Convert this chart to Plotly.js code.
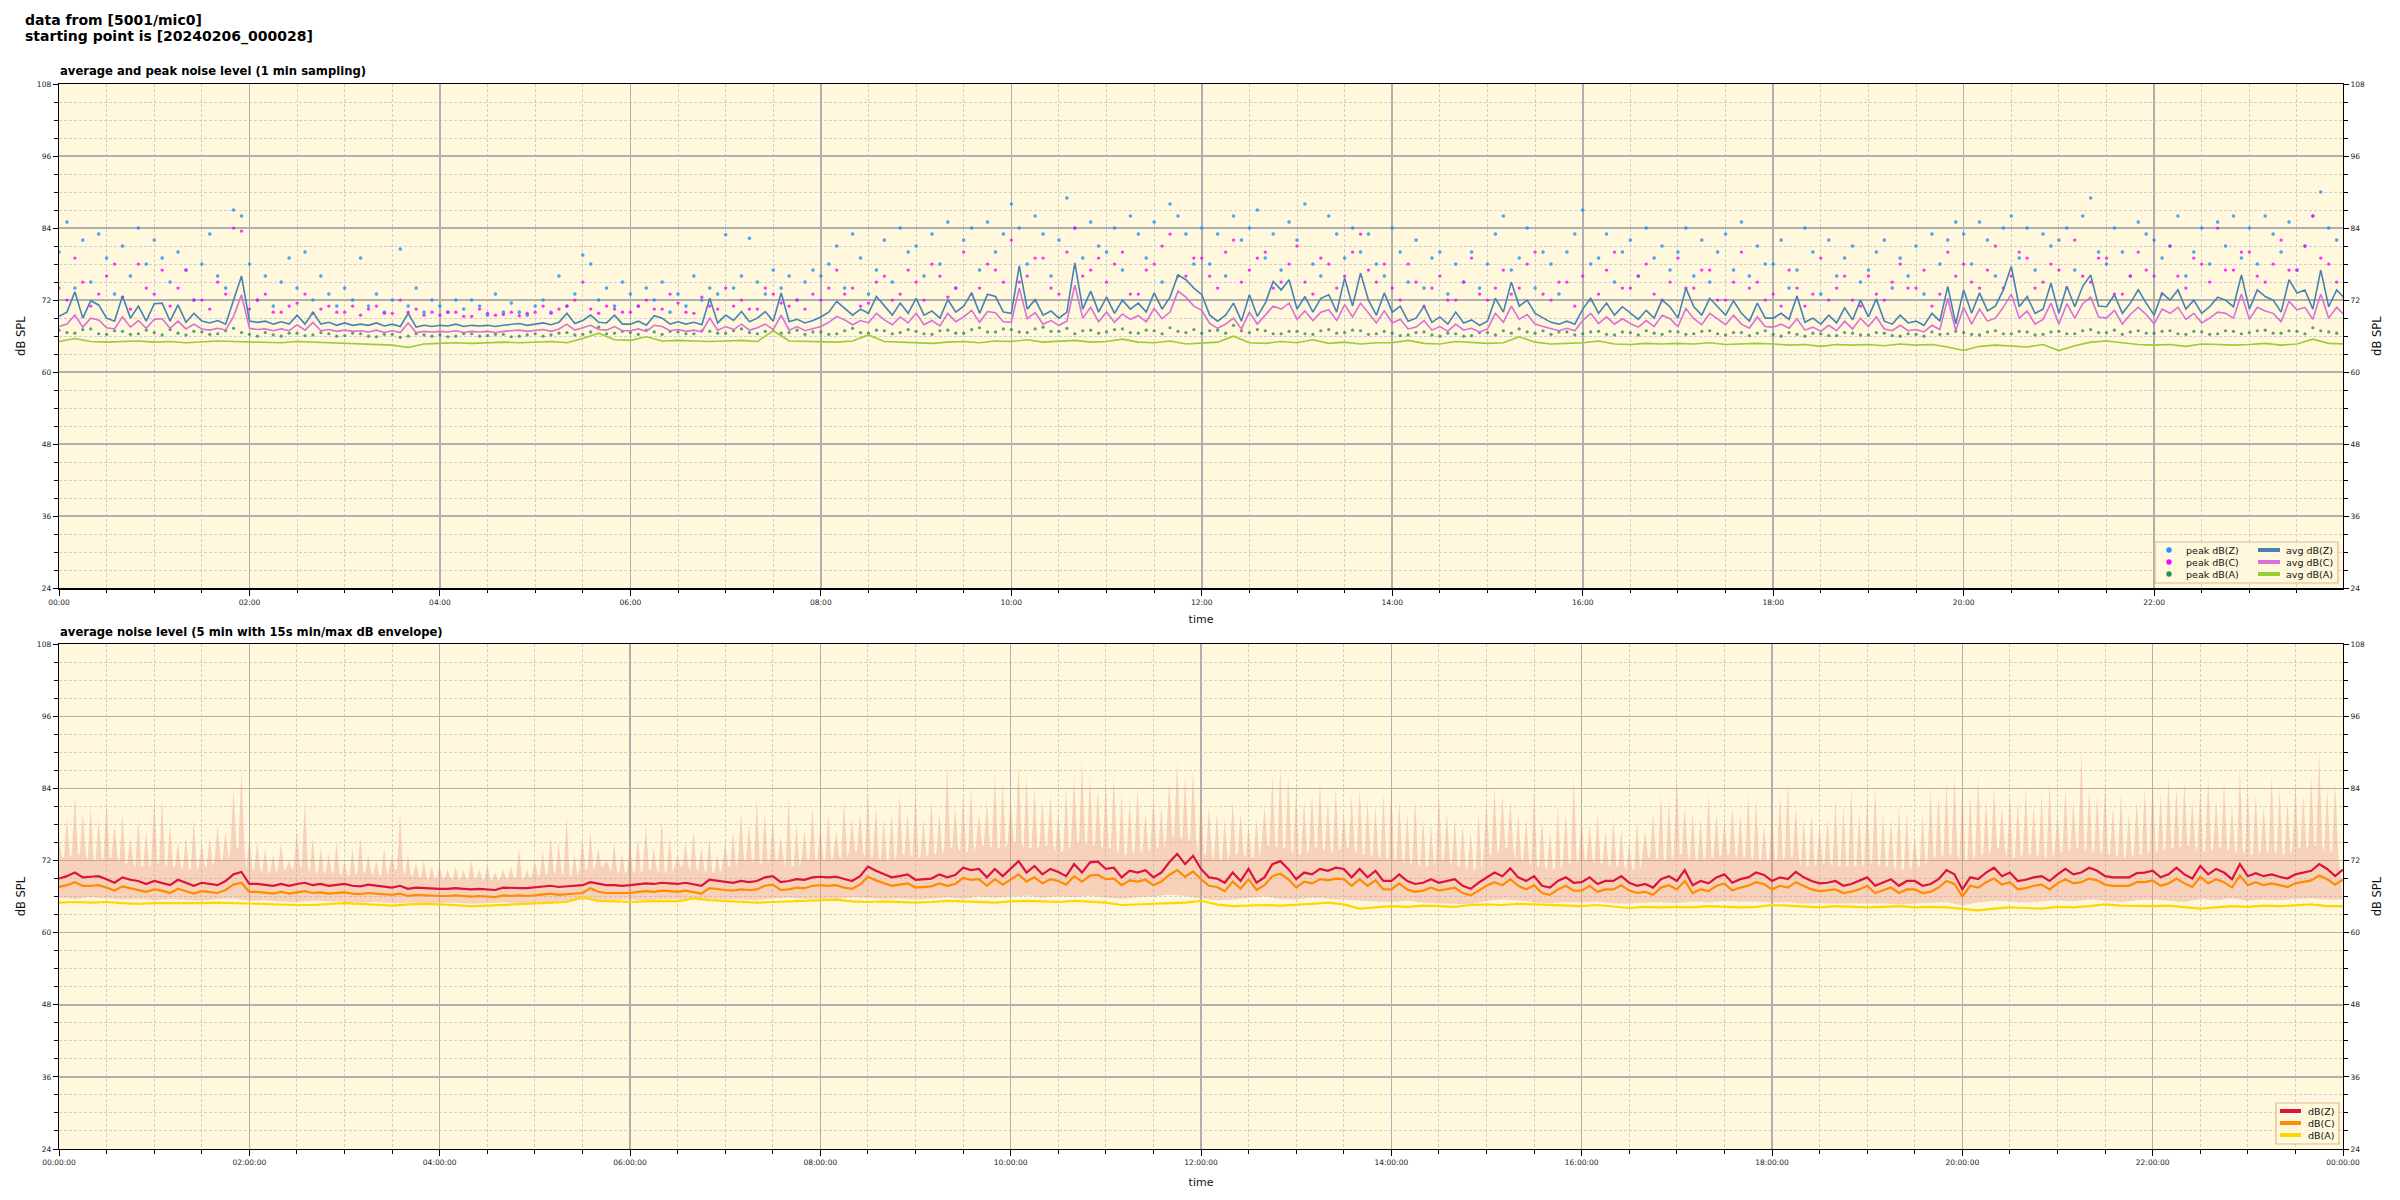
<!DOCTYPE html>
<html>
<head>
<meta charset="utf-8">
<script src="https://cdn.plot.ly/plotly-3.0.1.min.js"></script>
<style>html,body{margin:0;padding:0;background:#fff;}#chart{width:2400px;height:1200px;}</style>
</head>
<body>
<div id="chart"></div>
<script>
// ---------- data ----------
const startDay = Date.UTC(2024, 1, 6); // 2024-02-06 00:00
const mainTitle1 = "data from [5001/mic0]";
const mainTitle2 = "starting point is [20240206_000028]";
const topTitle = "average and peak noise level (1 min sampling)";
const bottomTitle = "average noise level (5 min with 15s min/max dB envelope)";
const topLegendPeaks = ["peak dB(Z)", "peak dB(C)", "peak dB(A)"];
const topLegendAvgs = ["avg dB(Z)", "avg dB(C)", "avg dB(A)"];
const bottomLegend = ["dB(Z)", "dB(C)", "dB(A)"];

// top plot: averaged levels, 5-min readings
const avgZ = [
69.3,70.0,73.4,69.0,71.9,71.2,69.0,68.5,72.7,69.0,71.0,68.5,
71.4,71.5,68.5,71.2,68.3,69.8,68.5,68.2,68.6,68.0,72.0,76.0,
68.5,68.3,68.5,68.0,68.4,68.0,69.5,68.0,70.0,68.0,68.3,67.8,
68.2,67.8,68.0,67.8,68.2,67.7,68.0,67.6,69.8,67.5,67.8,67.6,
67.8,67.7,68.0,67.6,67.8,67.7,67.8,67.6,67.8,67.9,68.1,67.8,
68.0,68.2,67.9,68.3,69.8,68.1,68.6,69.5,68.3,68.2,69.5,68.0,
68.0,68.5,67.8,69.4,69.0,68.0,68.4,68.0,68.3,67.9,72.3,68.2,
69.5,68.6,70.1,68.4,69.0,70.1,68.5,73.2,68.4,68.8,68.2,68.6,
69.2,70.0,71.8,70.7,69.5,70.5,69.8,72.6,71.0,69.5,71.5,69.8,
72.3,69.5,70.2,69.0,72.1,70.0,71.0,73.2,69.8,73.0,72.6,70.0,
69.8,77.7,70.5,72.1,69.5,70.2,69.0,70.0,78.2,70.5,73.5,70.0,
72.5,69.8,72.0,70.5,71.5,70.0,73.2,70.5,72.5,76.2,75.4,74.0,
72.9,69.5,68.5,69.5,71.5,68.5,72.9,69.3,71.5,75.1,73.7,75.4,
70.5,72.6,70.0,72.3,72.9,70.0,75.7,71.0,76.5,72.0,69.5,73.2,
70.0,71.0,68.5,69.0,71.0,68.3,69.2,68.0,70.0,68.2,68.7,67.8,
68.5,72.3,70.0,75.0,71.0,72.0,69.8,69.0,68.3,68.0,68.5,68.0,
70.5,72.3,69.8,71.5,69.5,70.9,69.8,68.8,70.3,69.0,72.0,70.9,
69.0,74.0,70.9,69.5,72.3,70.9,69.5,71.9,69.8,68.5,71.5,69.0,
69.0,69.8,68.8,72.7,68.3,69.0,68.0,69.5,68.2,70.7,68.7,72.0,
69.2,72.2,68.5,68.0,69.5,68.2,68.5,67.8,69.8,68.5,74.3,68.0,
73.7,69.8,73.2,70.2,71.0,73.7,77.6,70.9,72.6,69.8,70.5,74.8,
69.8,74.3,70.9,74.3,76.2,71.0,70.9,72.9,69.8,71.5,73.7,71.5,
69.5,73.2,72.0,73.7,70.5,72.0,69.8,70.9,72.5,72.0,70.9,76.2,
70.5,73.7,72.6,72.0,70.0,75.4,73.2,73.7,70.5,77.0,70.9,73.7,
72.3];
const avgC = [
67.6,68.0,69.5,67.5,69.0,68.7,67.4,67.2,69.2,67.5,68.6,67.3,
68.8,68.9,67.3,68.5,67.2,68.0,67.2,67.0,67.3,67.0,69.3,72.9,
67.3,67.1,67.2,66.9,67.2,66.9,67.9,67.0,68.3,66.9,67.1,66.8,
67.0,66.8,66.9,66.7,67.0,66.6,66.9,66.6,68.2,66.6,66.8,66.7,
66.8,66.7,66.9,66.6,66.8,66.7,66.8,66.6,66.8,66.9,67.0,66.8,
66.9,67.1,66.8,67.2,68.0,67.0,67.4,67.8,67.1,67.0,67.6,66.9,
66.9,67.2,66.8,67.8,67.6,66.9,67.1,66.8,67.0,66.7,69.0,67.0,
67.6,67.1,68.0,67.0,67.4,68.0,67.1,69.5,67.0,67.6,66.9,67.2,
67.6,68.3,69.3,68.7,67.9,68.6,68.2,69.8,68.7,67.9,69.2,68.2,
69.8,67.9,68.6,67.7,69.8,68.4,69.2,70.3,68.3,70.1,69.9,68.4,
68.3,74.0,68.9,69.9,68.0,68.6,67.8,68.5,74.5,69.0,70.8,68.4,
70.0,68.3,69.7,68.8,69.4,68.4,70.6,68.9,70.0,73.5,72.5,71.0,
70.3,68.1,67.3,68.0,69.0,67.2,70.0,68.0,69.5,71.0,70.5,71.5,
68.8,70.2,68.6,70.0,70.4,68.6,71.2,69.2,71.5,69.8,68.2,70.2,
68.2,68.8,67.2,67.5,68.6,67.0,67.6,66.8,68.0,67.0,67.3,66.7,
67.2,69.8,68.3,71.0,68.8,69.6,68.0,67.6,67.2,66.9,67.3,66.9,
68.6,69.8,68.1,69.2,68.0,68.9,68.1,67.5,68.6,67.6,69.5,68.9,
67.6,70.6,68.9,67.9,69.8,68.9,67.9,69.5,68.0,67.3,69.2,67.6,
67.5,68.0,67.3,68.9,67.0,67.5,66.8,67.8,66.9,68.5,67.2,69.0,
67.6,69.2,67.2,66.9,67.8,66.9,67.1,66.7,67.8,67.1,72.3,66.9,
70.8,68.0,70.5,68.5,69.0,70.8,73.0,69.0,70.2,68.0,68.8,71.5,
68.0,71.4,69.0,71.4,72.5,69.2,69.0,70.3,68.0,69.6,70.8,69.6,
68.0,70.5,69.8,70.8,68.8,69.8,68.2,69.0,70.0,69.8,69.0,73.0,
68.8,70.8,70.2,69.8,68.4,71.8,70.4,70.8,68.8,73.0,69.0,70.8,
69.5];
// 10-min readings
const avgA = [
65.1,65.6,65.1,65.0,65.1,65.2, 65.0,65.1,64.9,65.0,65.2,65.1,
65.0,65.0,64.9,65.1,65.0,64.8, 64.8,64.7,64.6,64.5,64.1,64.7,
64.8,64.9,64.8,64.9,65.0,64.9, 65.0,65.1,64.9,65.6,66.5,65.4,
65.3,65.9,65.2,65.3,65.2,65.1, 65.2,65.3,65.1,66.9,65.2,65.1,
65.1,65.0,65.2,66.2,65.1,65.0, 64.9,64.8,65.0,65.1,64.9,65.2,
65.1,65.4,65.0,65.2,65.3,65.0, 65.1,65.5,65.0,64.9,65.2,64.7,
64.9,65.0,66.0,64.9,64.8,65.1, 64.9,65.4,64.8,65.0,64.7,64.9,
64.9,65.3,64.8,64.7,65.1,64.9, 64.8,64.9,65.9,65.0,64.7,64.8,
64.9,65.2,64.7,64.6,64.8,64.7, 64.8,64.7,64.9,64.6,64.7,64.8,
64.7,64.5,64.6,64.3,64.6,64.5, 64.6,64.4,64.7,64.5,64.6,64.2,
63.6,64.3,64.5,64.4,64.2,64.6, 63.6,64.4,65.0,65.2,64.9,64.6,
64.5,64.6,64.3,64.7,64.6,64.5, 64.6,64.8,64.5,64.7,65.5,64.8,
64.7];

// top plot: peak levels, 5-min readings
const peakZ = [
80,85,74,82,75,83,79,73,81,76,84,78,
82,79,75,80,77,72,78,83,76,74,87,86,
78,72,76,71,75,79,74,80,72,76,73,71,
74,72,79,71,73,70,72,80.5,71,74,70,72,
71,70,72,70.5,72,71,69.5,73,70,71.5,70,69.5,
71,72,70,76,71,73,79.5,78,72,74,71,75,
73,71,74,72,75,70,73,71,76,72,74,73,
82.9,74,76,82.3,75,73,77,74,76,72,75,77,
76,78,81,74,83,79,73,77,82,75,84,80,
81,76,83,78,85,74,82,84,77,85,80,83,
88,84,78,86,83,76,82,89,84,79,85,81,
80,84,77,86,83,79,85,75,88,86,83,78,
84,78,83,76,86,82,84,87,79,83,77,85,
82,88,78,76,86,83,79,84,80,83,78,76,
84,80,75,82,74,79,80,73,78,75,80,74,
78,83,86,77,79,84,74,80,78,73,80,83,
87,78,79,83,75,80,82,76,84,79,81,77,
80,84,76,82,75,80,83,77,85,76,81,78,
78,82,74,77,84,80,73,82,76,79,81,75,
77,80,82,74,79,76,81,73,83,78,82,85,
83,78,85,82,76,84,86,79,84,77,83,81,
82,84,77,86,89,80,78,84,80,76,85,83,
82,79,81,86,76,80,84,78,85,81,86,79,
84,78,86,83,80,85,77,81,86,90,84,82];
const peakC = [
74,72,79,75,71,73,76,78,72.5,70.5,78,74,
73,77,71,74,77,72,72,70.5,75,73,84,83.5,
70.5,72,73,70,70,71,71.5,73,69.8,70.5,71,70,
70,71,69.5,70.5,71,69.8,69.8,72,70,70.5,69.5,70,
69.5,70,70,69.3,69.3,70.5,69.8,69.5,69.6,70,69.4,69.8,
70,71,69.8,70.5,71,72,75,70.5,69.8,71,70.5,70,
70,71,72,70.5,70.5,73,71.5,70,69.8,72.5,71,70.5,
74,71,72,70.5,70.5,74,73,71.5,71,72,70.5,73,
72,74,77,73,74,71,71.5,75,76,72,73,77,
75,72,78,76,72.5,74,80,73,74,78,77,75,
82,75,76,79,79,74,73,80,84,76,77,79,
75,78,80,73,73,77,78,81,83,76,76,79,
79,76,74,80,82,75,77,79,80,74,75,78,
81,75,73,79,78,74,76,80,83,77,75,78,
74,72,78,75,71,74,76,72,72,75,79,73,
72,74,77,73,74,78,80,73,72,75,75,71,
76,72,73,77,80,74,74,76,78,73,72,75,
79,74,74,77,77,72,72,75,80,74,75,72,
73,71,77,74,71,73,79,72,74,76,72,71,
76,73,72,75,78,74,74,77,71,73,80,76,
78,75,74,77,81,74,76,80,79,74,75,78,
77,74,82,76,75,79,79,73,73,76,80,77,
76,73,81,76,74,79,78,75,84,77,77,80,
80,76,75,78,82,77,77,81,86,79,78,75];
const peakA = [
67.0,66.6,66.5,67.1,67.2,66.4,66.3,66.9,66.8,66.3,66.4,67.0,
66.6,66.2,67.1,66.5,66.2,66.8,66.7,66.3,66.4,66.9,67.3,66.6,
66.3,66.0,66.6,66.2,66.0,66.5,66.5,66.1,66.2,66.6,66.4,66.0,
66.1,66.5,66.4,66.0,65.9,66.3,66.3,65.8,66.0,66.4,66.2,66.0,
66.2,65.9,66.0,66.4,66.4,66.0,66.1,66.3,66.3,65.9,66.0,66.2,
66.4,66.0,66.2,66.5,66.6,66.2,66.3,66.7,67.5,66.4,66.5,66.8,
66.6,66.3,67.0,66.7,66.3,66.8,66.7,66.4,66.4,66.9,66.8,66.5,
66.5,66.9,67.2,66.6,66.4,66.8,66.9,66.5,66.6,67.0,66.3,66.7,
66.7,66.3,66.4,66.9,67.3,66.6,66.5,67.0,66.9,66.4,66.6,67.1,
66.8,66.4,66.3,66.9,67.0,66.5,66.5,67.1,67.4,66.7,66.7,67.2,
67.1,66.7,66.6,67.2,67.5,66.8,66.8,67.3,66.4,66.9,67.0,66.5,
66.7,67.1,67.2,66.6,66.5,67.0,66.9,66.4,67.4,66.8,66.6,67.1,
66.5,66.9,67.0,66.5,67.8,66.9,66.6,67.1,66.9,66.4,66.4,66.8,
66.8,66.4,66.3,66.9,67.1,66.5,66.6,67.0,66.9,66.3,66.4,66.8,
66.5,66.1,66.2,66.6,66.7,66.2,66.0,66.5,66.4,66.0,66.1,66.6,
66.6,66.2,66.9,66.5,67.2,66.7,66.5,66.9,66.3,66.7,66.7,66.2,
66.4,66.7,66.8,66.3,66.2,66.7,66.6,66.2,66.9,66.5,66.3,66.8,
66.7,66.3,66.4,66.8,66.9,66.4,66.2,66.6,66.6,66.1,66.5,66.9,
66.3,66.0,66.6,66.3,66.0,66.5,66.4,66.1,66.1,66.6,66.5,66.2,
66.2,66.6,66.5,66.1,66.0,66.4,66.3,66.0,66.7,66.3,66.4,66.8,
66.6,66.3,66.2,66.7,66.9,66.4,66.4,66.8,66.7,66.2,66.3,66.7,
66.8,66.4,66.4,66.9,67.1,66.6,66.6,67.0,66.3,66.7,66.9,66.5,
66.5,66.8,66.9,66.4,66.3,66.8,66.7,66.3,66.4,66.9,66.8,66.4,
66.6,66.9,67.0,66.5,66.5,66.9,66.8,66.4,67.4,66.9,66.7,66.5];

// bottom plot: 5-min averages
const lvlZ = [
69.0,69.4,70.0,69.2,69.3,69.4,68.9,68.3,69.2,68.8,68.6,68.1,
68.6,68.3,67.9,68.8,68.3,67.8,68.3,68.1,67.9,68.6,69.7,70.1,
68.1,68.1,67.9,67.8,68.1,67.8,68.1,68.3,67.9,68.1,67.8,67.9,
68.1,67.8,67.7,68.0,67.8,67.7,67.5,67.8,67.3,67.5,67.4,67.3,
67.3,67.3,67.4,67.3,67.2,67.3,67.2,67.1,67.5,67.4,67.4,67.4,
67.5,67.6,67.8,67.6,67.7,67.8,67.9,68.4,68.1,67.9,67.9,67.8,
67.9,68.1,68.2,68.1,68.3,68.2,68.1,68.3,68.1,67.8,68.8,68.6,
68.4,68.3,68.6,68.4,68.6,69.2,69.4,68.4,68.6,68.9,68.8,69.2,
69.3,69.2,69.3,68.9,68.6,69.4,71.0,70.3,69.7,69.2,69.4,69.7,
68.8,68.9,69.0,69.7,69.2,69.6,70.8,70.4,70.6,69.2,70.6,69.4,
70.6,71.9,70.0,71.1,69.7,70.6,70.1,69.4,71.4,70.0,71.7,71.8,
70.6,70.8,69.2,70.3,70.0,70.4,69.2,70.0,71.7,73.1,71.4,72.8,
70.6,69.2,69.0,68.3,70.0,68.6,70.6,68.3,69.2,71.4,71.9,70.6,
68.9,70.0,69.7,70.6,70.3,70.8,70.6,69.2,70.6,69.2,70.3,68.6,
68.6,69.7,68.6,68.1,68.3,68.9,68.3,68.6,68.9,67.8,67.3,68.3,
69.2,70.0,69.4,70.7,69.2,68.6,69.4,67.8,67.5,68.6,69.2,68.3,
68.4,69.2,68.1,68.6,68.6,69.4,68.3,67.8,68.1,67.5,68.9,69.4,
68.6,70.4,67.9,68.6,68.2,69.2,69.7,68.3,68.9,69.2,70.0,69.6,
68.6,69.2,68.9,70.1,69.2,68.6,68.2,68.3,68.6,67.8,68.1,68.6,
69.2,67.8,68.4,68.9,67.8,68.6,68.6,67.8,68.1,68.9,70.4,69.7,
67.2,69.2,68.9,70.0,70.8,69.4,70.0,68.6,68.8,69.2,69.4,68.6,
69.7,70.6,69.7,70.0,70.8,70.3,69.4,69.2,69.2,69.2,69.9,70.0,
70.3,69.2,69.7,70.8,69.7,69.0,71.1,69.7,70.6,70.0,68.9,71.4,
69.4,69.9,69.4,69.7,69.3,69.0,69.7,70.0,70.3,71.4,70.6,69.4,
70.5];
const lvlC = [
67.6,67.9,68.4,67.8,67.8,67.9,67.5,67.0,67.7,67.4,67.2,66.8,
67.2,67.0,66.6,67.3,66.9,66.5,66.9,66.8,66.6,67.1,68.0,68.3,
66.8,66.8,66.6,66.5,66.8,66.5,66.7,66.9,66.6,66.7,66.5,66.6,
66.7,66.5,66.4,66.6,66.5,66.4,66.3,66.5,66.1,66.3,66.2,66.1,
66.1,66.1,66.2,66.1,66.0,66.1,66.0,65.9,66.2,66.1,66.2,66.1,
66.2,66.3,66.5,66.3,66.4,66.5,66.6,67.4,66.8,66.6,66.6,66.5,
66.6,66.8,66.9,66.8,67.0,66.9,66.8,67.0,66.8,66.5,67.4,67.2,
67.1,67.0,67.2,67.1,67.2,67.8,68.0,67.1,67.2,67.5,67.4,67.8,
67.9,67.8,67.9,67.5,67.3,68.0,69.3,68.7,68.2,67.8,68.0,68.2,
67.5,67.6,67.7,68.2,67.8,68.1,69.1,68.8,68.9,67.8,68.9,68.0,
68.9,69.7,68.5,69.2,68.2,68.9,68.6,68.0,69.4,68.5,69.5,69.6,
68.9,69.0,67.9,68.7,68.5,68.8,67.9,68.5,69.6,70.4,69.3,70.2,
68.9,67.8,67.6,66.9,68.5,67.3,68.9,67.1,67.9,69.4,69.8,68.9,
67.5,68.5,68.2,68.9,68.7,69.0,68.9,67.8,68.9,67.8,68.7,67.2,
67.2,68.2,67.2,66.8,67.0,67.5,67.0,67.2,67.5,66.6,66.2,67.0,
67.8,68.4,67.9,68.9,67.8,67.2,67.9,66.6,66.3,67.2,67.8,67.0,
67.0,67.8,66.8,67.2,67.2,67.9,67.0,66.6,66.8,66.3,67.5,67.9,
67.2,68.6,66.6,67.2,66.9,67.8,68.2,67.0,67.5,67.8,68.4,68.1,
67.2,67.8,67.5,68.4,67.8,67.2,66.9,67.0,67.2,66.6,66.8,67.2,
67.8,66.6,67.1,67.5,66.6,67.2,67.2,66.6,66.8,67.5,68.6,68.1,
66.0,67.8,67.5,68.4,69.0,68.0,68.4,67.2,67.4,67.8,68.0,67.2,
68.2,68.9,68.2,68.4,69.0,68.7,68.0,67.8,67.8,67.8,68.4,68.4,
68.7,67.8,68.2,69.0,68.2,67.6,69.3,68.2,68.9,68.4,67.5,69.5,
67.9,68.4,67.9,68.2,67.9,67.6,68.2,68.4,68.7,69.5,68.9,68.0,
68.8];
// 10-min readings
const lvlA = [
65.0,65.1,65.0,65.1,64.9,64.8, 64.9,64.9,64.8,64.9,65.0,64.9,
64.9,64.8,64.7,64.6,64.6,64.7, 64.9,64.8,64.6,64.5,64.7,64.8,
64.7,64.6,64.4,64.5,64.6,64.8, 64.9,65.0,65.1,65.9,65.3,65.2,
65.1,65.2,65.3,65.2,65.7,65.4, 65.3,65.2,65.0,65.1,65.2,65.3,
65.3,65.5,65.2,65.1,65.2,65.1, 65.0,65.1,65.3,65.2,65.1,65.0,
65.2,65.3,65.2,65.1,65.3,65.2, 65.0,64.6,64.7,64.8,64.9,65.0,
65.3,64.7,64.4,64.5,64.6,64.5, 64.6,64.8,65.0,64.7,64.0,64.2,
64.4,64.3,64.5,64.4,64.3,64.6, 64.7,64.6,64.8,64.7,64.6,64.5,
64.4,64.6,64.3,64.1,64.3,64.2, 64.3,64.2,64.4,64.3,64.2,64.3,
64.6,64.5,64.3,64.2,64.4,64.3, 64.2,64.3,64.4,64.2,64.3,64.2,
63.9,63.7,64.0,64.2,64.1,64.0, 64.3,64.2,64.4,64.7,64.5,64.4,
64.4,64.5,64.3,64.0,64.2,64.4, 64.3,64.5,64.4,64.6,64.7,64.4,
64.4];

// bottom plot: 15 s min/max envelope (lower edge, dense band top, needle tops)
const envMin = [
65.8,65.6,65.9,65.7,65.5,65.6, 65.4,65.6,65.5,65.3,65.6,65.7,
65.3,65.4,65.2,65.1,65.3,65.2, 65.2,65.0,65.1,64.9,65.0,64.9,
64.9,65.0,64.8,64.9,65.0,64.9, 65.0,65.1,65.2,65.5,65.3,65.4,
65.5,65.4,65.6,65.5,65.7,65.6, 65.6,65.5,65.4,65.7,65.8,65.6,
65.7,65.6,65.9,65.8,65.6,65.7, 65.5,65.7,65.9,65.6,66.0,65.8,
66.0,66.2,65.8,66.1,65.9,66.2, 65.8,65.6,65.9,66.0,66.3,66.1,
65.7,65.4,65.5,65.8,66.0,65.6, 65.5,65.8,65.6,65.4,65.3,65.2,
65.1,65.3,65.0,64.9,64.8,64.7, 65.3,65.5,65.4,65.0,64.9,65.1,
65.0,65.2,64.9,64.8,65.0,65.1, 64.9,65.2,65.0,65.3,65.1,65.2,
65.0,65.1,64.8,64.9,64.8,64.9, 64.8,64.9,64.7,64.8,65.0,65.1,
64.5,65.0,65.3,65.1,65.0,65.2, 65.4,65.2,65.5,65.3,65.1,65.4,
65.5,65.3,65.1,65.6,65.4,65.7, 65.3,65.5,65.4,65.6,65.7,65.5,
65.5];
const envCore = [
72.5,73,72,72.5,71.5,71, 71.5,71,70.5,71,72,74,
70.5,70,70.5,71,70,70, 69.5,70,69.5,70.5,69.5,69,
69,68.8,69,68.7,69,69, 69.5,70,69.5,70.5,71,70,
70,70.5,70,71,70.5,70, 71,72,71.5,72,71,72,
72,72.5,73.5,72.5,72,73, 72.5,73,74,73.5,74.5,74,
75,74,74.5,73.5,75,74.5, 74,73,73.5,74,76,75.5,
73,72,73,72.5,74.5,74, 73,74,73.5,74,73,72.5,
72,71.5,71,72,71,70.5, 73,74,72,71,70.5,71.5,
72,71.5,71,70.5,72.5,72, 73,72,72.5,73,72.5,72,
72,72.5,71,71.5,71,71, 71.5,71,70.5,71,72.5,73,
72,73,74,72.5,73,72.5, 73.5,74,73.5,73,72.5,73,
73.5,74,74.5,73.5,74,73.5, 73,73.5,73,74,74.5,73.5,
73.5];
const envMax = [
76,79,83,80,81,79,82,78,80,76,79,77,
82.5,82,78,75,76,79,75,76,78,77,84,87,
76,75,74,73,75,72,77,82,76,74,73,75,
72,74,76,73,72,74,73,80,73,71.5,72,71,
71,70.5,71,70.5,72,70.5,71.5,70,70.5,71,74,70.5,
72,73.5,76,75,79.5,73,76,77,74,72,75,73,
75,76,78,74,79,76,73,75,77,74,76,73,
75,77,80,78,82,80,79,76,82.5,78,77,81,
78,80,77,82,79,80,84,81,79,80,83,80,
84,79,82,80,88,81,83,84,80,82,86,85,
82,88,86,84,82,83,80,84,86,88.5,86,84,
85,86,83,82,84,80,83,81,85,88.5,86,87,
83,81,80,79,82,80,78,79,81,86,87.5,86,
84,82,83,85,82,84,80,83,84,82,81,83,
84,82,80,82,79,78,83,80,79,78,77,80,
82,84,83,82,80,79,84,79,77,81,80,86,
79,78,80,77,79,77,75,79,77,80,83,82,
86,81,80,79,83,80,79,81,80,83,82,78,
80,83,85,81,79,80,78,79,82,81,84,80,
83,84,80,79,81,80,76,80,84,83,85,86,
84,83,86,82,84,81,83,82,84,81,83,85,
80,84,82,90,84,83,85,81,83,80,82,84,
85,83,86,84,85,82,84,86,82,85,81,87,
84,83,81,86,84,82,85,83,86,90,84,85];

// ---------- helpers ----------
const MIN = 60000, H = 3600000;
function timeAxis(n, stepMin) {
  const out = [];
  for (let i = 0; i < n; i++) out.push(startDay + i * stepMin * MIN);
  return out;
}
const FONT = "DejaVu Sans, Verdana, sans-serif";

// envelope outline: dense band top with a thin needle at every 5-min maximum
const needleX = [], needleY = [];
envMax.forEach((v, i) => {
  const t = startDay + i * 5 * MIN;
  const base = envCore[Math.floor(i / 2)];
  needleX.push(t - 1.9 * MIN, t, t + 1.9 * MIN);
  needleY.push(base, Math.max(v, base), base);
});
const ENV = "rgba(235,140,130,0.36)";

// pixel helpers for the hand-placed legend boxes (plot area 59..2343 x 84..1149)
const PX = p => (p - 59) / 2284;
const PY = p => (1149 - p) / 1065;

const traces = [
  // ---- top plot ----
  {type:"scatter", mode:"markers", x:timeAxis(peakZ.length,5), y:peakZ, xaxis:"x", yaxis:"y", name:topLegendPeaks[0],
   marker:{color:"#1e90ff", size:3.6, opacity:0.8}, showlegend:false, hoverinfo:"skip"},
  {type:"scatter", mode:"markers", x:timeAxis(peakC.length,5), y:peakC, xaxis:"x", yaxis:"y", name:topLegendPeaks[1],
   marker:{color:"#ff00ff", size:3.4, opacity:0.8}, showlegend:false, hoverinfo:"skip"},
  {type:"scatter", mode:"markers", x:timeAxis(peakA.length,5), y:peakA, xaxis:"x", yaxis:"y", name:topLegendPeaks[2],
   marker:{color:"#2e8b57", size:3.2, opacity:0.8}, showlegend:false, hoverinfo:"skip"},
  {type:"scatter", mode:"lines", x:timeAxis(avgZ.length,5), y:avgZ, xaxis:"x", yaxis:"y", name:topLegendAvgs[0],
   line:{color:"#4682b4", width:1.6}, showlegend:false, hoverinfo:"skip"},
  {type:"scatter", mode:"lines", x:timeAxis(avgC.length,5), y:avgC, xaxis:"x", yaxis:"y", name:topLegendAvgs[1],
   line:{color:"#da70d6", width:1.6}, showlegend:false, hoverinfo:"skip"},
  {type:"scatter", mode:"lines", x:timeAxis(avgA.length,10), y:avgA, xaxis:"x", yaxis:"y", name:topLegendAvgs[2],
   line:{color:"#9acd32", width:1.6}, showlegend:false, hoverinfo:"skip"},
  // right-hand axis holders
  {type:"scatter", mode:"markers", x:[null], y:[null], xaxis:"x", yaxis:"y3", showlegend:false, hoverinfo:"skip"},
  {type:"scatter", mode:"markers", x:[null], y:[null], xaxis:"x2", yaxis:"y4", showlegend:false, hoverinfo:"skip"},
  // ---- bottom plot ----
  {type:"scatter", mode:"lines", x:timeAxis(envMin.length,10), y:envMin, xaxis:"x2", yaxis:"y2",
   line:{width:0, color:ENV}, showlegend:false, hoverinfo:"skip"},
  {type:"scatter", mode:"lines", x:needleX, y:needleY, xaxis:"x2", yaxis:"y2",
   line:{width:0, color:ENV}, fill:"tonexty", fillcolor:ENV, showlegend:false, hoverinfo:"skip"},
  {type:"scatter", mode:"lines", x:timeAxis(lvlZ.length,5), y:lvlZ, xaxis:"x2", yaxis:"y2", name:bottomLegend[0],
   line:{color:"#dc143c", width:2.2}, showlegend:false, hoverinfo:"skip"},
  {type:"scatter", mode:"lines", x:timeAxis(lvlC.length,5), y:lvlC, xaxis:"x2", yaxis:"y2", name:bottomLegend[1],
   line:{color:"#ff8c00", width:2.2}, showlegend:false, hoverinfo:"skip"},
  {type:"scatter", mode:"lines", x:timeAxis(lvlA.length,10), y:lvlA, xaxis:"x2", yaxis:"y2", name:bottomLegend[2],
   line:{color:"#ffd700", width:2.2}, showlegend:false, hoverinfo:"skip"}
];

const minorX = {dtick:0.5*H, tick0:startDay, ticks:"outside", ticklen:3.5, tickcolor:"#000",
  showgrid:true, gridcolor:"#cfcfcf", griddash:"3px,2px", gridwidth:1};
function xAxis(fmt, anchor, end, standoff) {
  return {type:"date", anchor:anchor, domain:[0,1], range:[startDay, end],
    tickformat:fmt, dtick:2*H, tick0:startDay, ticks:"outside", ticklen:6, tickcolor:"#000",
    showline:true, linecolor:"#000", linewidth:1.3, mirror:true,
    showgrid:true, gridcolor:"#b0b0b0", gridwidth:1.6, zeroline:false,
    minor:minorX, tickfont:{size:7.5, color:"#222", family:FONT},
    title:{text:"time", font:{size:11, color:"#111", family:FONT}, standoff:standoff}};
}
const minorY = {dtick:3, tick0:24, ticks:"outside", ticklen:3.5, tickcolor:"#000",
  showgrid:true, gridcolor:"#cfcfcf", griddash:"3px,2px", gridwidth:1};
function yAxis(anchor, dom) {
  return {anchor:anchor, domain:dom, range:[24,108], dtick:12, tick0:24,
    ticks:"outside", ticklen:5, tickcolor:"#000",
    showline:true, linecolor:"#000", linewidth:1.3, mirror:true,
    showgrid:true, gridcolor:"#b0b0b0", gridwidth:1.6, zeroline:false,
    minor:minorY, tickfont:{size:7.5, color:"#222", family:FONT},
    title:{text:"dB SPL", font:{size:11.5, color:"#111", family:FONT}, standoff:8}};
}
function yRight(over, anchor) {
  return {overlaying:over, anchor:anchor, side:"right", range:[24,108], dtick:12, tick0:24,
    ticks:"outside", ticklen:5, tickcolor:"#000", showline:false, showgrid:false, zeroline:false,
    minor:{dtick:3, tick0:24, ticks:"outside", ticklen:3.5, tickcolor:"#000", showgrid:false},
    tickfont:{size:7.5, color:"#222", family:FONT},
    title:{text:"dB SPL", font:{size:11.5, color:"#111", family:FONT}, standoff:8}};
}

const topDom = [0.5265, 1];
const botDom = [0, 0.474];
const LEG_FONT = {size:9.5, color:"#111", family:FONT};
const BOX_LINE = "#dcb98f", BOX_FILL = "rgba(255,248,220,0.85)";

const shapes = [
  // top legend box
  {type:"rect", xref:"paper", yref:"paper", x0:PX(2155), x1:PX(2338), y0:PY(583), y1:PY(542),
   fillcolor:BOX_FILL, line:{color:BOX_LINE, width:1.2}, layer:"above"},
  // bottom legend box
  {type:"rect", xref:"paper", yref:"paper", x0:PX(2276), x1:PX(2339), y0:PY(1144), y1:PY(1103),
   fillcolor:BOX_FILL, line:{color:BOX_LINE, width:1.2}, layer:"above"}
];
const annotations = [
  {text:"<b>"+mainTitle1+"</b>", xref:"paper", yref:"paper", x:PX(23), y:PY(20),
   xanchor:"left", yanchor:"middle", showarrow:false, font:{size:14, color:"#000", family:FONT}},
  {text:"<b>"+mainTitle2+"</b>", xref:"paper", yref:"paper", x:PX(23), y:PY(36),
   xanchor:"left", yanchor:"middle", showarrow:false, font:{size:14, color:"#000", family:FONT}},
  {text:"<b>"+topTitle+"</b>", xref:"paper", yref:"paper", x:PX(58), y:PY(71),
   xanchor:"left", yanchor:"middle", showarrow:false, font:{size:11.6, color:"#000", family:FONT}},
  {text:"<b>"+bottomTitle+"</b>", xref:"paper", yref:"paper", x:PX(58), y:PY(632),
   xanchor:"left", yanchor:"middle", showarrow:false, font:{size:11.6, color:"#000", family:FONT}}
];
const peakColors = ["#1e90ff", "#ff00ff", "#2e8b57"];
const avgColors = ["#4682b4", "#da70d6", "#9acd32"];
const lvlColors = ["#dc143c", "#ff8c00", "#ffd700"];
[550, 562, 574].forEach((ry, k) => {
  shapes.push({type:"circle", xref:"paper", yref:"paper", x0:PX(2166.3), x1:PX(2171.7), y0:PY(ry+2.7), y1:PY(ry-2.7),
    fillcolor:peakColors[k], line:{width:0}, layer:"above"});
  shapes.push({type:"line", xref:"paper", yref:"paper", x0:PX(2258), x1:PX(2280), y0:PY(ry), y1:PY(ry),
    line:{color:avgColors[k], width:4}, layer:"above"});
  annotations.push({text:topLegendPeaks[k], xref:"paper", yref:"paper", x:PX(2184), y:PY(ry),
    xanchor:"left", yanchor:"middle", showarrow:false, font:LEG_FONT});
  annotations.push({text:topLegendAvgs[k], xref:"paper", yref:"paper", x:PX(2284), y:PY(ry),
    xanchor:"left", yanchor:"middle", showarrow:false, font:LEG_FONT});
});
[1111, 1123, 1135].forEach((ry, k) => {
  shapes.push({type:"line", xref:"paper", yref:"paper", x0:PX(2280), x1:PX(2301), y0:PY(ry), y1:PY(ry),
    line:{color:lvlColors[k], width:4}, layer:"above"});
  annotations.push({text:bottomLegend[k], xref:"paper", yref:"paper", x:PX(2306), y:PY(ry),
    xanchor:"left", yanchor:"middle", showarrow:false, font:LEG_FONT});
});

const layout = {
  width:2400, height:1200,
  margin:{l:59, r:57, t:84, b:51},
  paper_bgcolor:"#ffffff", plot_bgcolor:"#fff8dc",
  font:{family:FONT, color:"#111"},
  showlegend:false,
  xaxis: xAxis("%H:%M", "y", startDay + 1439*MIN, 9),
  yaxis: yAxis("x", topDom),
  xaxis2: xAxis("%H:%M:%S", "y2", startDay + 24*H, 12),
  yaxis2: yAxis("x2", botDom),
  yaxis3: yRight("y", "x"),
  yaxis4: yRight("y2", "x2"),
  shapes: shapes,
  annotations: annotations
};

Plotly.newPlot("chart", traces, layout, {staticPlot:true, displayModeBar:false});
</script>
</body>
</html>
